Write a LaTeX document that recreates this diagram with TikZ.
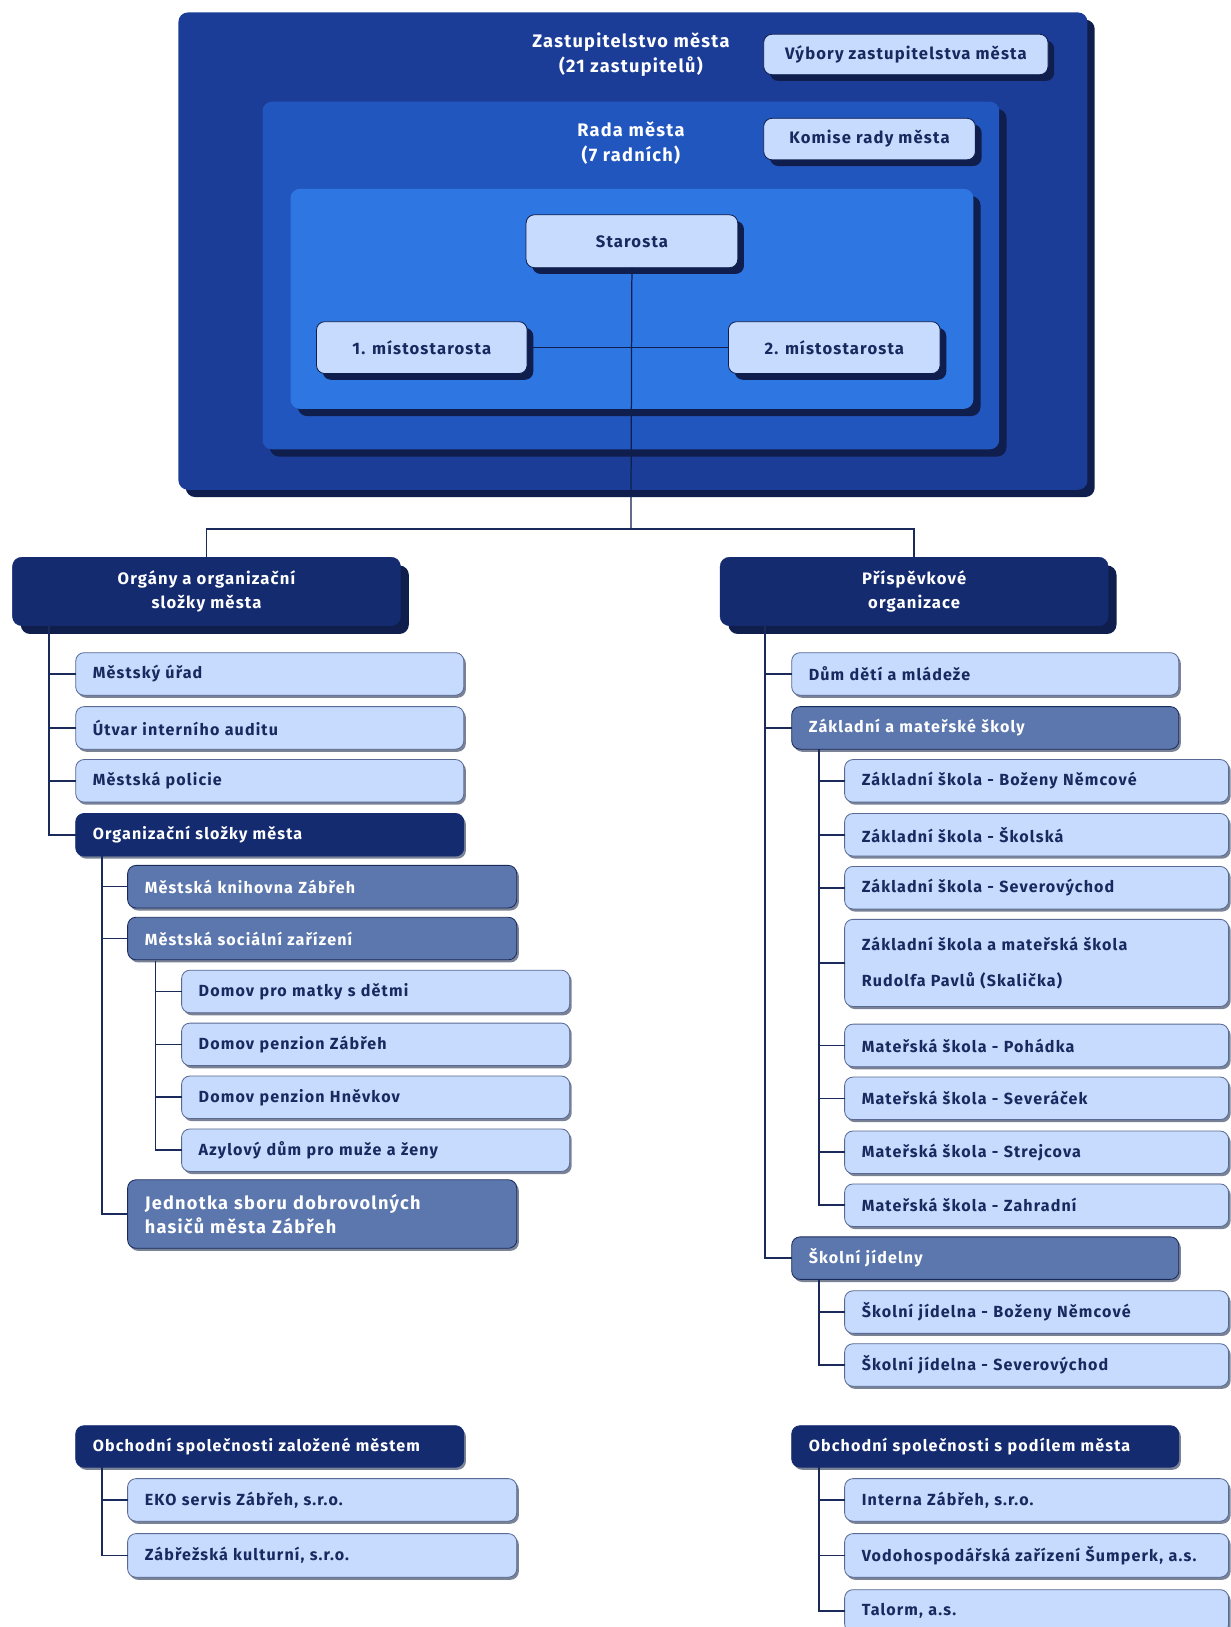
\documentclass[tikz,border=0pt]{standalone}
\usepackage{fontspec}
\setmainfont[LetterSpace=7]{Fira Sans}
\usetikzlibrary{shadows}

\definecolor{cOuter}{HTML}{1C3D97}
\definecolor{cRada}{HTML}{2256BF}
\definecolor{cInner}{HTML}{2E77E2}
\definecolor{cShade}{HTML}{0F1E4C}
\definecolor{cLite}{HTML}{C6DBFD}
\definecolor{cEdge}{HTML}{5A6A94}
\definecolor{cInk}{HTML}{17295E}
\definecolor{cDark}{HTML}{142B70}
\definecolor{cMed}{HTML}{5B77AD}
\definecolor{cGrey}{HTML}{7A8296}
\definecolor{cLine}{HTML}{1A2A5A}

\tikzset{
  every node/.style={inner sep=0pt, outer sep=0pt},
  frame/.style={anchor=north west, rounded corners=9pt,
    drop shadow={shadow xshift=7pt, shadow yshift=-7pt, fill=cShade, opacity=1}},
  topbox/.style={anchor=north west, rounded corners=8pt, fill=cLite, draw=cShade, line width=0.8pt,
    text=cInk, align=center, font=\fontsize{16}{19}\selectfont\bfseries,
    drop shadow={shadow xshift=6pt, shadow yshift=-6pt, fill=cShade, opacity=1}},
  title/.style={text=white, align=center, font=\fontsize{17.5}{24}\selectfont\bfseries},
  head/.style={anchor=north west, rounded corners=9pt, fill=cDark, draw=cDark,
    text=white, align=center, font=\fontsize{16}{23}\selectfont\bfseries,
    drop shadow={shadow xshift=8pt, shadow yshift=-8pt, fill=cShade, opacity=1}},
  itembase/.style={anchor=north west, rounded corners=8pt, line width=0.8pt,
    inner xsep=16.5pt, align=left, minimum height=41pt,
    font=\fontsize{15.5}{18}\selectfont\bfseries,
    drop shadow={shadow xshift=2pt, shadow yshift=-2.5pt, fill=cGrey, opacity=1}},
  lite/.style={itembase, fill=cLite, draw=cEdge, text=cInk},
  med/.style={itembase, fill=cMed, draw=cLine, text=white},
  dark/.style={itembase, fill=cDark, draw=cDark, text=white},
  wA/.style={text width=341pt},
  wB/.style={text width=342pt},
  wC/.style={text width=340pt},
  wD/.style={text width=337pt},
  conn/.style={draw=cLine, line width=1.6pt},
  link/.style={draw=cShade, line width=1.2pt},
}

\begin{document}
\begin{tikzpicture}[x=1pt, y=-1pt]
\useasboundingbox (0,0) rectangle (1186,1568);
\clip (0,0) rectangle (1186,1568);

% city council and its nested bodies
\node[frame, fill=cOuter, minimum width=876pt, minimum height=460pt] (zast) at (172,12) {};
\node[title] (zastT) at (608,53) {Zastupitelstvo města\\(21 zastupitelů)};
\node[topbox, minimum width=274pt, minimum height=39pt] (vyb) at (736,33) {Výbory zastupitelstva města};

\node[frame, fill=cRada, minimum width=710pt, minimum height=335pt] (rada) at (253,98) {};
\node[title] (radaT) at (608,138) {Rada města\\(7 radních)};
\node[topbox, minimum width=204pt, minimum height=40pt] (kom) at (736,114) {Komise rady města};

\node[frame, fill=cInner, minimum width=658pt, minimum height=212pt] (vedeni) at (280,182) {};
\node[topbox, minimum width=204pt, minimum height=51pt] (staro) at (507,207) {Starosta};
\node[topbox, minimum width=203pt, minimum height=50pt] (mis1) at (305,310) {1. místostarosta};
\node[topbox, minimum width=204pt, minimum height=50pt] (mis2) at (702,310) {2. místostarosta};

% main branches
\node[head, minimum width=374pt, minimum height=66pt] (lhead) at (12,537) {Orgány a organizační\\složky města};
\node[head, minimum width=374pt, minimum height=66pt] (rhead) at (694,537) {Příspěvkové\\organizace};

% left branch
\node[lite, wA] (mu) at (73,629) {Městský úřad};
\node[lite, wA] (uia) at (73,681) {Útvar interního auditu};
\node[lite, wA] (mp) at (73,732) {Městská policie};
\node[dark, wA] (osm) at (73,784) {Organizační složky města};
\node[med, wB] (knih) at (123,834) {Městská knihovna Zábřeh};
\node[med, wB] (msz) at (123,884) {Městská sociální zařízení};
\node[lite, wA] (dm) at (175,935) {Domov pro matky s dětmi};
\node[lite, wA] (dpz) at (175,986) {Domov penzion Zábřeh};
\node[lite, wA] (dph) at (175,1037) {Domov penzion Hněvkov};
\node[lite, wA] (azyl) at (175,1088) {Azylový dům pro muže a ženy};
\node[med, wB, minimum height=66pt, font=\fontsize{17.5}{24}\selectfont\bfseries] (hasici) at (123,1137)
  {Jednotka sboru dobrovolných\\hasičů města Zábřeh};

% right branch
\node[lite, wC] (ddm) at (763,629) {Dům dětí a mládeže};
\node[med, wC] (zms) at (763,681) {Základní a mateřské školy};
\node[lite, wD] (zs1) at (814,732) {Základní škola - Boženy Němcové};
\node[lite, wD] (zs2) at (814,784) {Základní škola - Školská};
\node[lite, wD] (zs3) at (814,835) {Základní škola - Severovýchod};
\node[lite, wD, minimum height=84pt, font=\fontsize{15.5}{35}\selectfont\bfseries] (zs4) at (814,886)
  {Základní škola a mateřská škola\\Rudolfa Pavlů (Skalička)};
\node[lite, wD] (ms1) at (814,987) {Mateřská škola - Pohádka};
\node[lite, wD] (ms2) at (814,1038) {Mateřská škola - Severáček};
\node[lite, wD] (ms3) at (814,1090) {Mateřská škola - Strejcova};
\node[lite, wD] (ms4) at (814,1141) {Mateřská škola - Zahradní};
\node[med, wC] (sj) at (763,1192) {Školní jídelny};
\node[lite, wD] (sj1) at (814,1244) {Školní jídelna - Boženy Němcové};
\node[lite, wD] (sj2) at (814,1295) {Školní jídelna - Severovýchod};

% companies
\node[dark, wA, minimum height=40pt] (obl) at (73,1374) {Obchodní společnosti založené městem};
\node[lite, wB] (eko) at (123,1425) {EKO servis Zábřeh, s.r.o.};
\node[lite, wB, minimum height=42pt] (zk) at (123,1478) {Zábřežská kulturní, s.r.o.};
\node[dark, wC, minimum height=40pt] (obr) at (763,1374) {Obchodní společnosti s podílem města};
\node[lite, wD] (int) at (814,1425) {Interna Zábřeh, s.r.o.};
\node[lite, wD, minimum height=42pt] (vod) at (814,1478) {Vodohospodářská zařízení Šumperk, a.s.};
\node[lite, wD] (tal) at (814,1532) {Talorm, a.s.};

% connectors at the top
\coordinate (jn) at (608,510);
\draw[link] (mis1.east) -- (mis2.west);
\draw[link] (staro.south) -- (jn);
\draw[conn, line width=1.4pt] (lhead.north) |- (jn) -| (rhead.north);

% spines
\coordinate (sL) at (47,603);
\coordinate (sL2) at (98,825);
\coordinate (sL3) at (150,926);
\coordinate (sR) at (737,603);
\coordinate (sR2) at (789,722);
\coordinate (sR3) at (789,1233);
\coordinate (sB1) at (98,1414);
\coordinate (sB2) at (789,1414);

\foreach \n in {mu,uia,mp,osm} \draw[conn] (sL) |- (\n.west);
\foreach \n in {knih,msz,hasici} \draw[conn] (sL2) |- (\n.west);
\foreach \n in {dm,dpz,dph,azyl} \draw[conn] (sL3) |- (\n.west);
\foreach \n in {ddm,zms,sj} \draw[conn] (sR) |- (\n.west);
\foreach \n in {zs1,zs2,zs3,zs4,ms1,ms2,ms3,ms4} \draw[conn] (sR2) |- (\n.west);
\foreach \n in {sj1,sj2} \draw[conn] (sR3) |- (\n.west);
\foreach \n in {eko,zk} \draw[conn] (sB1) |- (\n.west);
\foreach \n in {int,vod,tal} \draw[conn] (sB2) |- (\n.west);
\end{tikzpicture}
\end{document}
